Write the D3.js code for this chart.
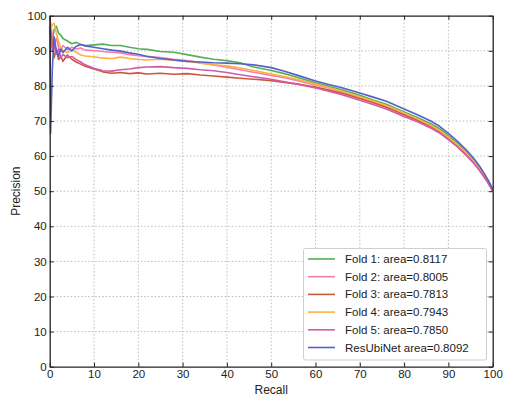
<!DOCTYPE html>
<html>
<head>
<meta charset="utf-8">
<script src="https://cdn.jsdelivr.net/npm/d3@7"></script>
<style>
  body { margin: 0; background: #fff; }
  svg { display: block; font-family: "Liberation Sans", Arial, Helvetica, sans-serif; }
</style>
</head>
<body>
<svg id="chart" width="516" height="402"></svg>
<script>
const recall = [0, 0.2, 0.6, 1, 1.5, 2, 2.5, 3, 4, 5, 6, 7, 8, 10, 12, 14, 16, 18, 20, 22, 25, 28, 31, 34, 37, 40, 43, 46, 50, 53, 56, 60, 63, 66, 70, 73, 76, 80, 83, 86, 88, 90, 92, 94, 95, 96, 97, 98, 99, 100];

const fold1 = [100, 95, 93, 96, 97, 95, 94.5, 93.5, 92.8, 92, 92.4, 91.8, 91.5, 91.7, 91.9, 91.5, 91.5, 91, 90.6, 90.4, 89.8, 89.6, 88.9, 88.2, 87.6, 87.2, 86.6, 85.4, 84.4, 83.5, 82.4, 80.9, 79.9, 78.9, 77.3, 76, 74.8, 72.6, 71, 69.2, 67.8, 65.8, 63.8, 61.2, 59.9, 58.4, 56.8, 55, 53, 50.5];
const fold2 = [96, 98, 94, 92, 93.5, 91, 90, 91.5, 90.3, 91, 90.5, 90.8, 90.2, 90.1, 89.8, 89.6, 89.4, 88.9, 88.6, 88.4, 88.1, 87.6, 87.2, 86.6, 86, 85.3, 84.6, 83.9, 83, 82.3, 81.5, 80.3, 79.4, 78.3, 76.6, 75.4, 74, 71.9, 70.3, 68.5, 67, 65, 62.9, 60.5, 59.2, 57.8, 56.2, 54.4, 52.5, 50.2];
const fold3 = [100, 96, 92, 88, 90.5, 87.5, 88.5, 87, 88.8, 87.6, 86.8, 86.2, 85.6, 84.8, 84, 83.6, 83.8, 83.5, 83.7, 83.4, 83.6, 83.3, 83.5, 83.1, 82.8, 82.5, 82.2, 81.9, 81.5, 81, 80.5, 79.7, 78.8, 77.9, 76.4, 75.2, 73.9, 71.8, 70.2, 68.4, 66.9, 64.9, 62.8, 60.3, 59, 57.6, 56, 54.2, 52.3, 50];
const fold4 = [97, 96, 97.5, 97.8, 95, 92.5, 91, 90, 89.5, 90.2, 89.6, 88.8, 88.5, 88.3, 87.9, 87.8, 88.2, 87.8, 87.5, 87.4, 87.6, 87.3, 87, 86.5, 86, 85.7, 85.1, 84.4, 83.4, 82.7, 81.8, 80.5, 79.5, 78.5, 76.9, 75.7, 74.4, 72.3, 70.6, 68.8, 67.3, 65.3, 63.3, 60.9, 59.6, 58.1, 56.5, 54.6, 52.6, 50.4];
const fold5 = [98, 94, 90, 91.5, 89, 90.5, 88, 89, 88, 88.4, 87.5, 86.8, 86, 85, 84.3, 84.2, 84.6, 84.8, 85.2, 85.4, 85.5, 85.2, 85, 84.6, 84.3, 83.8, 83.2, 82.6, 81.9, 81.2, 80.5, 79.4, 78.5, 77.5, 75.9, 74.7, 73.4, 71.3, 69.8, 68, 66.6, 64.7, 62.7, 60.3, 59, 57.6, 56, 54.2, 52.3, 50];
const resUbiNet = [97, 66.5, 85, 94, 90, 88.5, 90.5, 89.5, 91, 90, 91.3, 91.8, 91.4, 91, 90.6, 90.2, 89.9, 89.4, 89, 88.4, 87.8, 87.4, 87, 86.8, 86.6, 86.5, 86.3, 86, 85.2, 84.2, 83, 81.4, 80.4, 79.5, 78, 76.8, 75.6, 73.4, 71.8, 70, 68.5, 66.5, 64.3, 61.8, 60.4, 58.9, 57.2, 55.2, 53.1, 50.6];

const seriesNames = ["Fold 1: area=0.8117", "Fold 2: area=0.8005", "Fold 3: area=0.7813", "Fold 4: area=0.7943", "Fold 5: area=0.7850", "ResUbiNet area=0.8092"];
const seriesValues = [fold1, fold2, fold3, fold4, fold5, resUbiNet];
const seriesColors = ["#55b055", "#f27fb0", "#c85a3c", "#ffb040", "#d35aaa", "#5560c8"];
const xTicks = [0, 10, 20, 30, 40, 50, 60, 70, 80, 90, 100];
const yTicks = [0, 10, 20, 30, 40, 50, 60, 70, 80, 90, 100];
const xLabel = "Recall";
const yLabel = "Precision";

const svg = d3.select("#chart");
const pLeft = 49.7, pRight = 492.7, pTop = 15.7, pBottom = 366.7;
const x = d3.scaleLinear().domain([0, 100]).range([pLeft, pRight]);
const y = d3.scaleLinear().domain([0, 100]).range([pBottom, pTop]);

// grid
const grid = svg.append("g");
grid.selectAll("line.gx").data(xTicks.slice(1, -1)).join("line")
  .attr("x1", d => x(d)).attr("x2", d => x(d)).attr("y1", pTop).attr("y2", pBottom)
  .attr("stroke", "#bdbdbd").attr("stroke-width", 1).attr("stroke-dasharray", "1.5,2");
grid.selectAll("line.gy").data(yTicks.slice(1, -1)).join("line")
  .attr("y1", d => y(d)).attr("y2", d => y(d)).attr("x1", pLeft).attr("x2", pRight)
  .attr("stroke", "#bdbdbd").attr("stroke-width", 1).attr("stroke-dasharray", "1.5,2");

// lines
const line = d3.line().x((d, i) => x(recall[i])).y(d => y(d));
svg.append("g").selectAll("path").data(seriesValues).join("path")
  .attr("d", d => line(d))
  .attr("fill", "none")
  .attr("stroke", (d, i) => seriesColors[i])
  .attr("stroke-width", 1.6)
  .attr("stroke-linejoin", "round");

// axes
function styleAxis(g) {
  g.select(".domain").attr("stroke", "#222").attr("stroke-width", 1.3);
  g.selectAll(".tick line").attr("stroke", "#222");
  g.selectAll("text").attr("fill", "#222").style("font-size", "11.5px")
   .style("font-family", "'Liberation Sans', Arial, sans-serif");
}
svg.append("g").attr("transform", `translate(0,${pBottom})`)
  .call(d3.axisBottom(x).tickValues(xTicks).tickSizeInner(-4).tickSizeOuter(0).tickPadding(3))
  .call(styleAxis);
svg.append("g").attr("transform", `translate(${pLeft},0)`)
  .call(d3.axisLeft(y).tickValues(yTicks).tickSizeInner(-4).tickSizeOuter(0).tickPadding(3))
  .call(styleAxis);
svg.append("g").attr("transform", `translate(0,${pTop})`)
  .call(d3.axisTop(x).tickValues(xTicks).tickSizeInner(-4).tickSizeOuter(0).tickFormat(""))
  .call(styleAxis);
svg.append("g").attr("transform", `translate(${pRight},0)`)
  .call(d3.axisRight(y).tickValues(yTicks).tickSizeInner(-4).tickSizeOuter(0).tickFormat(""))
  .call(styleAxis);

// axis labels
svg.append("text").attr("x", (pLeft + pRight) / 2).attr("y", 394)
  .attr("text-anchor", "middle").attr("fill", "#222").style("font-size", "12px").text(xLabel);
svg.append("text").attr("transform", `translate(20,${(pTop + pBottom) / 2}) rotate(-90)`)
  .attr("text-anchor", "middle").attr("fill", "#222").style("font-size", "12px").text(yLabel);

// legend
const lg = svg.append("g");
lg.append("rect").attr("x", 303.5).attr("y", 248.5).attr("width", 183).attr("height", 111.5)
  .attr("rx", 2).attr("fill", "#fff").attr("stroke", "#cfcfcf").attr("stroke-width", 1);
const items = lg.selectAll("g.item").data(seriesNames).join("g")
  .attr("transform", (d, i) => `translate(0,${259 + i * 17.7})`);
items.append("line").attr("x1", 308).attr("x2", 335).attr("y1", 0).attr("y2", 0)
  .attr("stroke", (d, i) => seriesColors[i]).attr("stroke-width", 1.6);
items.append("text").attr("x", 345).attr("y", 4).attr("fill", "#222")
  .style("font-size", "11.5px").text(d => d);
</script>
</body>
</html>
